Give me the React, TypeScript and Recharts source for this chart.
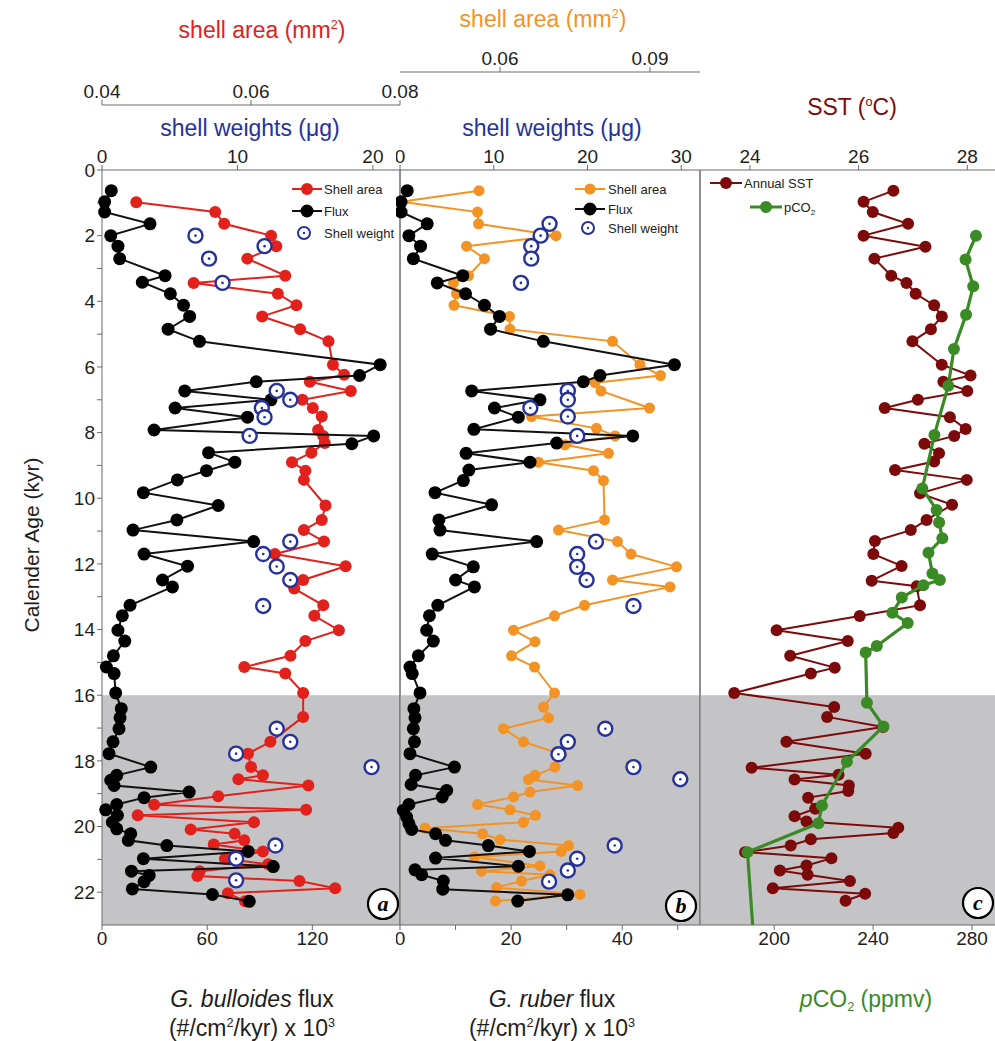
import React from "react";
import {
  ScatterChart,
  Scatter,
  XAxis,
  YAxis,
  ReferenceArea,
  ReferenceLine,
} from "recharts";

const FONT = '"Liberation Sans", Arial, Helvetica, sans-serif';

// ---- panel a : G. bulloides ----
const bullFluxAge = [0.63, 0.97, 1.28, 1.64, 2.0, 2.32, 2.7, 3.22, 3.42, 3.77, 4.12, 4.46, 4.85, 5.22, 5.93, 6.26, 6.45, 6.73, 7.0, 7.25, 7.53, 7.92, 8.1, 8.34, 8.61, 8.9, 9.16, 9.44, 9.83, 10.22, 10.66, 10.97, 11.32, 11.7, 12.07, 12.49, 12.7, 13.26, 13.58, 14.02, 14.35, 14.8, 15.14, 15.34, 15.93, 16.41, 16.69, 17.02, 17.42, 17.78, 18.19, 18.44, 18.59, 18.75, 18.95, 19.12, 19.33, 19.49, 19.66, 19.87, 20.07, 20.22, 20.42, 20.58, 20.76, 20.98, 21.22, 21.36, 21.49, 21.68, 21.9, 22.07, 22.28];
const bullFlux = [5.3, 1.5, 1.5, 27.4, 5.0, 9.1, 10.1, 36, 23, 39, 46.5, 50, 37.7, 55.6, 158.7, 146.9, 88, 47.2, 96.4, 41.7, 83, 29.7, 155, 142.5, 60.8, 75.8, 59.6, 43, 23.6, 66.3, 42.7, 17.7, 86.5, 24, 48.8, 34.5, 40.2, 16, 11.6, 9.1, 13, 6.5, 2.5, 6.9, 7.8, 11, 10.3, 9.7, 6.3, 4, 27.8, 8.4, 5, 6.9, 49.7, 24, 8.4, 2.1, 8.8, 5.9, 8.4, 16.4, 15, 37, 83.4, 23.6, 97.7, 16.8, 26.9, 24, 17.3, 63, 84];

const bullAreaAge = [0.98, 1.28, 1.64, 2.0, 2.32, 2.7, 3.22, 3.44, 3.77, 4.12, 4.46, 4.85, 5.22, 5.93, 6.24, 6.45, 6.73, 7.0, 7.25, 7.51, 7.92, 8.1, 8.32, 8.61, 8.9, 9.16, 9.44, 10.22, 10.66, 10.97, 11.32, 11.7, 12.07, 12.49, 12.75, 13.26, 13.58, 14.02, 14.35, 14.8, 15.14, 15.34, 15.93, 16.66, 17.42, 17.78, 18.19, 18.44, 18.56, 18.75, 19.08, 19.34, 19.49, 19.66, 19.87, 20.09, 20.22, 20.42, 20.55, 20.76, 20.98, 21.15, 21.36, 21.51, 21.66, 21.88, 22.03, 22.28];
const bullArea = [0.0446, 0.0552, 0.0564, 0.0627, 0.0634, 0.0595, 0.0646, 0.0523, 0.0636, 0.0661, 0.0615, 0.0666, 0.0704, 0.071, 0.0725, 0.0679, 0.0734, 0.0669, 0.0683, 0.0695, 0.069, 0.0697, 0.0699, 0.0681, 0.0655, 0.0673, 0.0671, 0.07, 0.0695, 0.0671, 0.0698, 0.0632, 0.0727, 0.067, 0.0658, 0.0697, 0.0685, 0.0718, 0.0673, 0.0653, 0.0591, 0.0646, 0.067, 0.067, 0.0626, 0.0596, 0.06, 0.0616, 0.0583, 0.0677, 0.0556, 0.047, 0.0674, 0.0448, 0.0604, 0.0519, 0.0578, 0.0591, 0.055, 0.0616, 0.0565, 0.0623, 0.0531, 0.0528, 0.0665, 0.0713, 0.0569, 0.0592];

const bullWeightAge = [2.0, 2.32, 2.7, 3.44, 6.73, 7.0, 7.25, 7.53, 8.1, 11.32, 11.7, 12.08, 12.49, 13.28, 17.02, 17.42, 17.78, 18.19, 20.58, 20.98, 21.64];
const bullWeight = [6.9, 12.0, 7.9, 8.9, 12.9, 13.9, 11.8, 12.0, 10.9, 13.9, 11.9, 12.9, 13.9, 11.9, 12.9, 13.9, 9.9, 19.9, 12.8, 9.9, 9.9];

// ---- panel b : G. ruber ----
const rubFluxAge = [0.63, 0.97, 1.28, 1.64, 2.0, 2.32, 2.7, 3.22, 3.44, 3.77, 4.12, 4.46, 4.85, 5.22, 5.93, 6.26, 6.45, 6.73, 7.0, 7.25, 7.53, 7.9, 8.1, 8.32, 8.63, 8.9, 9.14, 9.46, 9.83, 10.2, 10.66, 10.97, 11.32, 11.7, 12.09, 12.49, 12.7, 13.26, 13.58, 14.02, 14.35, 14.8, 15.14, 15.34, 15.93, 16.41, 16.69, 17.02, 17.42, 17.78, 18.19, 18.44, 18.72, 18.9, 19.1, 19.33, 19.51, 19.71, 19.91, 20.09, 20.22, 20.42, 20.58, 20.76, 20.96, 21.21, 21.32, 21.47, 21.66, 21.91, 22.08, 22.27];
const rubFlux = [1.3, 0.2, 0.2, 4.9, 1.6, 3.7, 2.4, 11.3, 6.7, 11.8, 15.2, 17.9, 16.3, 25.8, 49.4, 36, 33, 12.9, 25.2, 17, 21.3, 13.3, 41.9, 28.2, 11.9, 23.4, 12.4, 11.4, 6.3, 16.5, 7, 7.2, 24.6, 5.8, 13.2, 10, 13.4, 6.8, 5.3, 4.8, 6, 3.3, 1.8, 2.2, 3.6, 2.5, 2.7, 2.4, 2.6, 1.8, 9.8, 2.8, 2.0, 8.4, 7.6, 1.6, 0.6, 1.2, 1.6, 2.1, 6.4, 8.2, 15.9, 23.3, 6.4, 21.3, 2.7, 3.9, 7.8, 7.7, 30.2, 21.2];

const rubAreaAge = [0.63, 0.97, 1.28, 1.64, 2.0, 2.32, 2.7, 3.22, 3.44, 3.77, 4.12, 4.46, 4.85, 5.22, 5.93, 6.26, 6.48, 6.73, 7.25, 7.51, 7.87, 8.1, 8.37, 8.63, 8.9, 9.16, 9.46, 10.66, 10.97, 11.32, 11.7, 12.09, 12.49, 12.7, 13.26, 13.58, 14.02, 14.37, 14.8, 15.14, 15.93, 16.36, 16.69, 17.02, 17.42, 17.8, 18.19, 18.44, 18.57, 18.75, 18.95, 19.1, 19.33, 19.49, 19.66, 19.87, 20.05, 20.22, 20.4, 20.58, 20.76, 20.93, 21.2, 21.36, 21.47, 21.66, 21.86, 22.07, 22.27];
const rubArea = [0.0558, 0.0402, 0.0555, 0.0557, 0.0712, 0.0533, 0.0569, 0.0537, 0.0507, 0.0513, 0.0508, 0.0619, 0.062, 0.0825, 0.088, 0.0921, 0.079, 0.0802, 0.0899, 0.0663, 0.0793, 0.083, 0.073, 0.0817, 0.0677, 0.0787, 0.0807, 0.0809, 0.0717, 0.0835, 0.0862, 0.0953, 0.0825, 0.094, 0.0769, 0.0709, 0.0627, 0.067, 0.0623, 0.0669, 0.0709, 0.0687, 0.0697, 0.0607, 0.0647, 0.0723, 0.071, 0.067, 0.0657, 0.0755, 0.066, 0.0627, 0.0555, 0.062, 0.0671, 0.0647, 0.045, 0.0565, 0.06, 0.0737, 0.0722, 0.0549, 0.068, 0.0563, 0.07, 0.0643, 0.0593, 0.076, 0.0591];

const rubWeightAge = [1.64, 2.0, 2.32, 2.7, 3.44, 6.73, 7.0, 7.25, 7.51, 8.1, 11.32, 11.7, 12.09, 12.49, 13.28, 17.02, 17.42, 17.8, 18.19, 18.56, 20.58, 20.98, 21.34, 21.68];
const rubWeight = [15.95, 15.0, 14.0, 14.0, 12.9, 17.9, 17.9, 13.9, 17.9, 18.9, 20.9, 18.9, 18.9, 19.9, 24.9, 21.9, 17.9, 16.9, 24.9, 29.9, 22.9, 18.9, 17.9, 15.9];

// ---- panel c : SST and pCO2 ----
const sstAge = [0.63, 0.97, 1.28, 1.64, 2.0, 2.34, 2.7, 3.22, 3.44, 3.77, 4.12, 4.46, 4.85, 5.22, 5.93, 6.26, 6.45, 6.73, 7.0, 7.25, 7.53, 7.89, 8.1, 8.34, 8.63, 8.88, 9.14, 9.44, 9.85, 10.2, 10.66, 10.97, 11.3, 11.7, 12.06, 12.51, 12.68, 13.26, 13.59, 14.02, 14.35, 14.8, 15.16, 15.34, 15.93, 16.36, 16.66, 16.97, 17.42, 17.78, 18.21, 18.42, 18.57, 18.75, 18.92, 19.12, 19.46, 19.69, 19.85, 20.04, 20.2, 20.39, 20.58, 20.78, 20.97, 21.19, 21.34, 21.47, 21.66, 21.88, 22.05, 22.26];
const sst = [26.64, 26.09, 26.26, 26.91, 26.09, 27.23, 26.29, 26.6, 26.88, 27.05, 27.39, 27.53, 27.33, 26.99, 27.53, 28.06, 27.56, 28.0, 27.09, 26.48, 27.68, 27.97, 27.76, 27.21, 27.48, 27.39, 26.67, 27.99, 27.13, 27.72, 27.25, 26.96, 26.3, 26.27, 26.79, 26.24, 27.07, 27.13, 26.02, 24.49, 25.8, 24.74, 25.56, 25.12, 23.71, 25.55, 25.42, 26.45, 24.67, 26.13, 24.03, 25.63, 24.82, 25.82, 25.81, 25.07, 25.2, 24.82, 25.04, 26.73, 26.64, 25.12, 24.75, 23.91, 25.5, 25.04, 24.55, 25.06, 25.84, 24.42, 26.12, 25.76];

const co2Age = [2.0, 2.73, 3.54, 4.41, 5.45, 6.57, 8.07, 9.7, 10.36, 10.74, 11.22, 11.66, 12.29, 12.49, 12.65, 13.02, 13.49, 13.8, 14.5, 14.7, 16.23, 16.95, 18.03, 19.36, 19.9, 20.78, 23.0];
const co2 = [281.6, 277.4, 280.5, 277.6, 272.7, 270.4, 264.8, 259.9, 265.7, 266.7, 268, 262.4, 264, 267, 260.3, 251.6, 247.8, 254, 241.5, 237, 237.5, 244.2, 229.4, 219.3, 217.9, 189.2, 191.3];

// ---- axes ----
const AGE_TICKS = [0, 1, 2, 3, 4, 5, 6, 7, 8, 9, 10, 11, 12, 13, 14, 15, 16, 17, 18, 19, 20, 21, 22];
const BULL_FLUX_TICKS = [0, 60, 120];
const BULL_WEIGHT_TICKS = [0, 10, 20];
const BULL_AREA_TICKS = [0.04, 0.06, 0.08];
const RUB_FLUX_TICKS = [0, 10, 20, 30, 40, 50];
const RUB_WEIGHT_TICKS = [0, 10, 20, 30];
const RUB_AREA_TICKS = [0.06, 0.09];
const SST_TICKS = [24, 26, 28];
const CO2_TICKS = [200, 240, 280];

const zip = (ages: number[], vals: number[]) => ages.map((age, i) => ({ age, v: vals[i] }));

const RED = "#e2211c";
const ORANGE = "#f39325";
const BLUE = "#25329a";
const DARKRED = "#7c0a0a";
const GREEN = "#3a8a26";
const SHADE = "#c4c3c5";
const AXIS = "#6a6a6a";

const tickStyle = { fill: "#1e1e1e", fontSize: 19, fontFamily: FONT };

const solidDot = (r: number, fill: string) => (p: any) =>
  <circle cx={p.cx} cy={p.cy} r={r} fill={fill} />;

const ringDot = (p: any) => (
  <g>
    <circle cx={p.cx} cy={p.cy} r={7} fill="#ffffff" stroke={BLUE} strokeWidth={2.4} />
    <circle cx={p.cx} cy={p.cy} r={1.3} fill={BLUE} />
  </g>
);

const greenDot = (p: any) => {
  const age = p.payload?.age ?? p.age;
  if (age >= 23) return <g />;
  return <circle cx={p.cx} cy={p.cy} r={6} fill={GREEN} />;
};

const H = 960;

function AgeAxis({ show }: { show: boolean }) {
  return (
    <YAxis
      yAxisId="age"
      dataKey="age"
      type="number"
      domain={[0, 23]}
      reversed
      ticks={AGE_TICKS}
      interval={0}
      hide={!show}
      width={45}
      tickSize={5}
      tickFormatter={(v: number) => (v % 2 === 0 ? String(v) : "")}
      tick={tickStyle}
      axisLine={{ stroke: AXIS }}
      tickLine={{ stroke: AXIS }}
    />
  );
}

// top axes: "a_sw" sits on the plot, "b_sa" is stacked above it
function PanelA() {
  return (
    <ScatterChart width={424} height={H} margin={{ top: 70, right: 24, bottom: 0, left: 57 }}>
      <XAxis xAxisId="b_sa" orientation="top" dataKey="v" type="number" domain={[0.04, 0.08]} ticks={BULL_AREA_TICKS} interval={0} height={35} tick={tickStyle} tickSize={5} tickFormatter={(v: number) => v.toFixed(2)} axisLine={{ stroke: AXIS }} tickLine={{ stroke: AXIS }} />
      <XAxis xAxisId="a_sw" orientation="top" dataKey="v" type="number" domain={[0, 22]} ticks={BULL_WEIGHT_TICKS} interval={0} height={65} tick={tickStyle} tickSize={5} axisLine={{ stroke: AXIS }} tickLine={{ stroke: AXIS }} />
      <XAxis xAxisId="flux" orientation="bottom" dataKey="v" type="number" domain={[0, 170]} ticks={BULL_FLUX_TICKS} interval={0} height={35} tick={tickStyle} tickSize={5} axisLine={{ stroke: AXIS }} tickLine={{ stroke: AXIS }} />
      <AgeAxis show />
      <ReferenceArea xAxisId="flux" yAxisId="age" y1={16} y2={23} fill={SHADE} fillOpacity={1} stroke="none" />
      <ReferenceLine xAxisId="flux" yAxisId="age" x={170} stroke={AXIS} />
      <Scatter xAxisId="b_sa" yAxisId="age" data={zip(bullAreaAge, bullArea)} line={{ stroke: RED, strokeWidth: 2 }} shape={solidDot(6, RED)} isAnimationActive={false} />
      <Scatter xAxisId="flux" yAxisId="age" data={zip(bullFluxAge, bullFlux)} line={{ stroke: "#111", strokeWidth: 2 }} shape={solidDot(6.5, "#000")} isAnimationActive={false} />
      <Scatter xAxisId="a_sw" yAxisId="age" data={zip(bullWeightAge, bullWeight)} shape={ringDot} isAnimationActive={false} />
    </ScatterChart>
  );
}

function PanelB() {
  return (
    <ScatterChart width={308} height={H} margin={{ top: 42, right: 4, bottom: 0, left: 4 }}>
      <XAxis xAxisId="b_sa" orientation="top" dataKey="v" type="number" domain={[0.04, 0.1]} ticks={RUB_AREA_TICKS} interval={0} height={30} tick={tickStyle} tickSize={5} tickFormatter={(v: number) => v.toFixed(2)} axisLine={{ stroke: AXIS }} tickLine={{ stroke: AXIS }} />
      <XAxis xAxisId="a_sw" orientation="top" dataKey="v" type="number" domain={[0, 32]} ticks={RUB_WEIGHT_TICKS} interval={0} height={98} tick={tickStyle} tickSize={5} axisLine={{ stroke: AXIS }} tickLine={{ stroke: AXIS }} />
      <XAxis xAxisId="flux" orientation="bottom" dataKey="v" type="number" domain={[0, 54]} ticks={RUB_FLUX_TICKS} interval={0} height={35} tick={tickStyle} tickSize={5} tickFormatter={(v: number) => (v % 20 === 0 ? String(v) : "")} axisLine={{ stroke: AXIS }} tickLine={{ stroke: AXIS }} />
      <AgeAxis show={false} />
      <ReferenceArea xAxisId="flux" yAxisId="age" y1={16} y2={23} fill={SHADE} fillOpacity={1} stroke="none" />
      <ReferenceLine xAxisId="flux" yAxisId="age" x={0} stroke={AXIS} />
      <ReferenceLine xAxisId="flux" yAxisId="age" x={54} stroke={AXIS} />
      <Scatter xAxisId="b_sa" yAxisId="age" data={zip(rubAreaAge, rubArea)} line={{ stroke: ORANGE, strokeWidth: 2 }} shape={solidDot(5.5, ORANGE)} isAnimationActive={false} />
      <Scatter xAxisId="flux" yAxisId="age" data={zip(rubFluxAge, rubFlux)} line={{ stroke: "#111", strokeWidth: 2 }} shape={solidDot(6.5, "#000")} isAnimationActive={false} />
      <Scatter xAxisId="a_sw" yAxisId="age" data={zip(rubWeightAge, rubWeight)} shape={ringDot} isAnimationActive={false} />
    </ScatterChart>
  );
}

function PanelC() {
  return (
    <ScatterChart width={299} height={H} margin={{ top: 105, right: 0, bottom: 0, left: 4 }}>
      <XAxis xAxisId="sst" orientation="top" dataKey="v" type="number" domain={[23.08, 28.51]} ticks={SST_TICKS} interval={0} height={65} tick={tickStyle} tickSize={5} axisLine={{ stroke: AXIS }} tickLine={{ stroke: AXIS }} />
      <XAxis xAxisId="co2" orientation="bottom" dataKey="v" type="number" domain={[170, 289.3]} ticks={CO2_TICKS} interval={0} height={35} tick={tickStyle} tickSize={5} axisLine={{ stroke: AXIS }} tickLine={{ stroke: AXIS }} />
      <AgeAxis show={false} />
      <ReferenceArea xAxisId="co2" yAxisId="age" y1={16} y2={23} fill={SHADE} fillOpacity={1} stroke="none" />
      <ReferenceLine xAxisId="co2" yAxisId="age" x={170} stroke={AXIS} />
      <Scatter xAxisId="sst" yAxisId="age" data={zip(sstAge, sst)} line={{ stroke: DARKRED, strokeWidth: 2 }} shape={solidDot(6, DARKRED)} isAnimationActive={false} />
      <Scatter xAxisId="co2" yAxisId="age" data={zip(co2Age, co2)} line={{ stroke: GREEN, strokeWidth: 3.2 }} shape={greenDot} isAnimationActive={false} />
    </ScatterChart>
  );
}

function Txt({ x, y, color = "#1e1e1e", size = 23, children, rotate = false }: any) {
  return (
    <div
      style={{
        position: "absolute",
        left: x,
        top: y,
        transform: `translate(-50%, -50%)${rotate ? " rotate(-90deg)" : ""}`,
        whiteSpace: "nowrap",
        color,
        fontSize: size,
        fontFamily: FONT,
        lineHeight: 1.3,
      }}
    >
      {children}
    </div>
  );
}

const supStyle: React.CSSProperties = { fontSize: "0.55em", verticalAlign: "0.75em", lineHeight: 0 };
const subStyle: React.CSSProperties = { fontSize: "0.55em", verticalAlign: "-0.3em", lineHeight: 0 };

function Overlay() {
  const lf = { fontSize: 13, fontFamily: FONT, fill: "#222" };
  const badge = (cx: number, cy: number, letter: string) => (
    <g>
      <circle cx={cx} cy={cy} r={15} fill="#fff" stroke="#000" strokeWidth={2.2} />
      <text x={cx} y={cy + 7} textAnchor="middle" fontSize={22} fontStyle="italic" fontWeight="bold" fontFamily='"Liberation Serif", "Times New Roman", serif'>
        {letter}
      </text>
    </g>
  );
  return (
    <svg width={995} height={1041} style={{ position: "absolute", left: 0, top: 0, pointerEvents: "none" }}>
      {/* legend a */}
      <line x1={292} y1={189} x2={322} y2={189} stroke={RED} strokeWidth={2} />
      <circle cx={307} cy={189} r={6} fill={RED} />
      <text x={324} y={193.5} {...lf}>Shell area</text>
      <line x1={292} y1={211} x2={322} y2={211} stroke="#111" strokeWidth={2} />
      <circle cx={307} cy={211} r={6.5} fill="#000" />
      <text x={324} y={215.5} {...lf}>Flux</text>
      <circle cx={304} cy={233} r={6} fill="#fff" stroke={BLUE} strokeWidth={2} />
      <circle cx={304} cy={233} r={1.2} fill={BLUE} />
      <text x={324} y={237.5} {...lf}>Shell weight</text>
      {/* legend b */}
      <line x1={575} y1={189} x2={605} y2={189} stroke={ORANGE} strokeWidth={2} />
      <circle cx={590} cy={189} r={5.5} fill={ORANGE} />
      <text x={608} y={193.5} {...lf}>Shell area</text>
      <line x1={575} y1={209} x2={605} y2={209} stroke="#111" strokeWidth={2} />
      <circle cx={590} cy={209} r={6.5} fill="#000" />
      <text x={608} y={213.5} {...lf}>Flux</text>
      <circle cx={588} cy={228} r={6} fill="#fff" stroke={BLUE} strokeWidth={2} />
      <circle cx={588} cy={228} r={1.2} fill={BLUE} />
      <text x={608} y={232.5} {...lf}>Shell weight</text>
      {/* legend c */}
      <line x1={710} y1={183} x2={742} y2={183} stroke={DARKRED} strokeWidth={2} />
      <circle cx={726} cy={183} r={6} fill={DARKRED} />
      <text x={744} y={187.5} {...lf}>Annual SST</text>
      <line x1={750} y1={207} x2={782} y2={207} stroke={GREEN} strokeWidth={3} />
      <circle cx={766} cy={207} r={6} fill={GREEN} />
      <text x={784} y={211.5} {...lf}>
        pCO<tspan fontSize={8} dy={3}>2</tspan>
      </text>
      {badge(383, 904, "a")}
      {badge(681, 906, "b")}
      {badge(978, 903, "c")}
    </svg>
  );
}

export default function App() {
  return (
    <div style={{ position: "absolute", left: 0, top: 0, width: 995, height: 1041, background: "#fff", overflow: "hidden" }}>
      <div style={{ position: "absolute", left: 0, top: 0 }}>
        <PanelA />
      </div>
      <div style={{ position: "absolute", left: 396, top: 0 }}>
        <PanelB />
      </div>
      <div style={{ position: "absolute", left: 696, top: 0 }}>
        <PanelC />
      </div>
      <Overlay />
      <Txt x={262} y={31} color={RED}>shell area (mm<span style={supStyle}>2</span>)</Txt>
      <Txt x={543} y={20} color={ORANGE}>shell area (mm<span style={supStyle}>2</span>)</Txt>
      <Txt x={250} y={129} color={BLUE}>shell weights (μg)</Txt>
      <Txt x={552} y={129} color={BLUE}>shell weights (μg)</Txt>
      <Txt x={852} y={108} color={DARKRED}>SST (<span style={supStyle}>o</span>C)</Txt>
      <Txt x={32} y={545} size={21} rotate>Calender Age (kyr)</Txt>
      <Txt x={252} y={1000}><i>G. bulloides</i> flux</Txt>
      <Txt x={252} y={1029}>(#/cm<span style={supStyle}>2</span>/kyr) x 10<span style={supStyle}>3</span></Txt>
      <Txt x={552} y={1000}><i>G. ruber</i> flux</Txt>
      <Txt x={552} y={1029}>(#/cm<span style={supStyle}>2</span>/kyr) x 10<span style={supStyle}>3</span></Txt>
      <Txt x={866} y={1000} color={GREEN}><i>p</i>CO<span style={subStyle}>2</span> (ppmv)</Txt>
    </div>
  );
}
